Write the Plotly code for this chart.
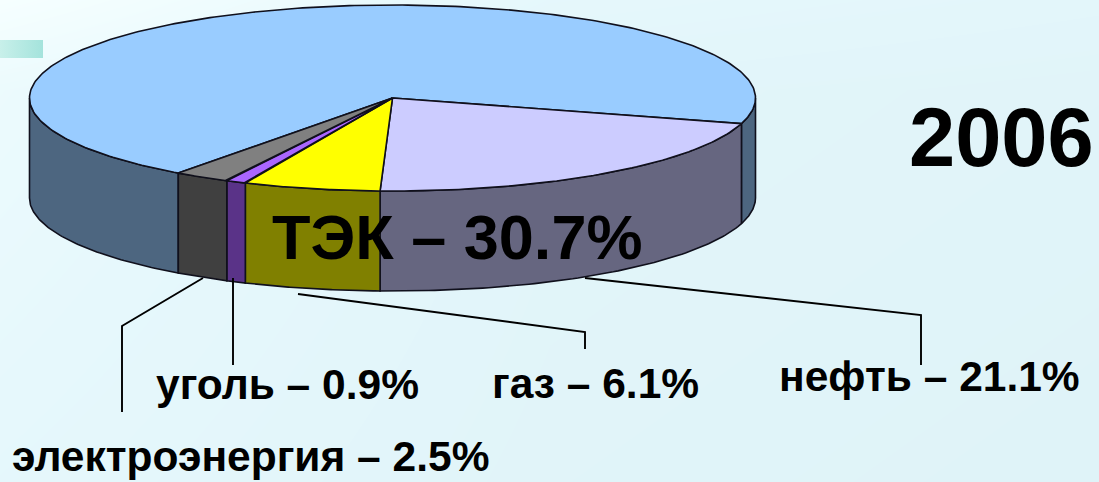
import numpy as np
import plotly.graph_objects as go

# data
slice_names = ["нефть", "газ", "уголь", "электроэнергия", "прочее"]
slice_values = [21.1, 6.1, 0.9, 2.5, 69.4]
tek_total = 30.7
year = "2006"

# styling
top_colors = ["#ccccff", "#ffff00", "#aa66ff", "#808080", "#99ccff"]
wall_colors = ["#666680", "#808000", "#5a3388", "#404040", "#4d6680"]
W, H = 1099, 482
CX, CY, RX, RY, DEPTH = 392.5, 98, 363, 93, 100
START = 16.0
EDGE = "#10101c"

def pt(t, dy=0):
    t = np.radians(t)
    return CX + RX * np.cos(t), CY + RY * np.sin(t) + dy

total = sum(slice_values)
edges = [START]
for v in slice_values:
    edges.append(edges[-1] + v / total * 360)

fig = go.Figure()

# background gradient
fig.add_trace(go.Heatmap(
    x=[0, W / 2, W], y=[0, 90, H],
    z=[[0.0, 0.6, 0.75], [0.35, 0.8, 0.9], [0.6, 0.9, 1.0]],
    colorscale=[[0, "#f6ffff"], [0.55, "#e6f8fc"], [1, "#dff3f8"]],
    zsmooth="best", showscale=False, hoverinfo="skip", zmin=0, zmax=1))

# teal accent
fig.add_trace(go.Scatter(x=[0, 43, 43, 0, 0], y=[40, 40, 58, 58, 40], mode="lines",
                         fill="toself", line=dict(width=0), hoverinfo="skip",
                         fillgradient=dict(type="horizontal",
                                           colorscale=[[0, "#c8f0ea"], [1, "#a4e3dc"]])))

def poly(xs, ys, color, lw=1.6):
    fig.add_trace(go.Scatter(x=xs, y=ys, mode="lines", fill="toself", fillcolor=color,
                             line=dict(color=EDGE, width=lw), hoverinfo="skip"))

def wall(a, b, color):
    ts = np.linspace(a, b, 80)
    x1, y1 = pt(ts)
    x2, y2 = pt(ts[::-1], DEPTH)
    poly(np.r_[x1, x2, x1[0]], np.r_[y1, y2, y1[0]], color)

# side walls (only the front half of the cylinder is visible)
wall(edges[3 + 1], 180, wall_colors[4])
wall(0, START, wall_colors[4])
for i in range(4):
    wall(edges[i], edges[i + 1], wall_colors[i])

# top faces
for i in [4, 0, 1, 2, 3]:
    ts = np.linspace(edges[i], edges[i + 1], 300 if i == 4 else 80)
    x, y = pt(ts)
    poly(np.r_[CX, x, CX], np.r_[CY, y, CY], top_colors[i])

# leader lines
leaders = [
    ([585, 921, 921], [278, 315, 365]),
    ([298, 585, 585], [294, 332, 349]),
    ([233, 233], [278, 365]),
    ([203, 122, 122], [278, 326, 412]),
]
for lx, ly in leaders:
    fig.add_trace(go.Scatter(x=lx, y=ly, mode="lines", line=dict(color="#000000", width=1.9),
                             hoverinfo="skip"))

FONT = "Liberation Sans, Arial, sans-serif"
def label(text, x, y, size):
    fig.add_annotation(x=x, y=y, xref="x", yref="y", text=f"<b>{text}</b>", showarrow=False,
                       xanchor="left", yanchor="middle",
                       font=dict(family=FONT, size=size, color="#000000"))

label(year, 907, 137, 83)
label(f"ТЭК – {tek_total}%", 270, 237, 63)
label(f"{slice_names[0]} – {slice_values[0]}%", 777, 376, 42.5)
label(f"{slice_names[1]} – {slice_values[1]}%", 490, 383, 42.5)
label(f"{slice_names[2]} – {slice_values[2]}%", 154, 384, 42.5)
label(f"{slice_names[3]} – {slice_values[3]}%", 10, 456, 42.5)

fig.update_layout(
    width=W, height=H, margin=dict(l=0, r=0, t=0, b=0), showlegend=False,
    paper_bgcolor="#e3f6fb", plot_bgcolor="#e3f6fb",
    xaxis=dict(range=[0, W], visible=False, fixedrange=True),
    yaxis=dict(range=[H, 0], visible=False, fixedrange=True),
)
fig.write_html("out.html", config={"displayModeBar": False},
               post_script="document.body.style.margin='0';document.body.style.overflow='hidden';")
